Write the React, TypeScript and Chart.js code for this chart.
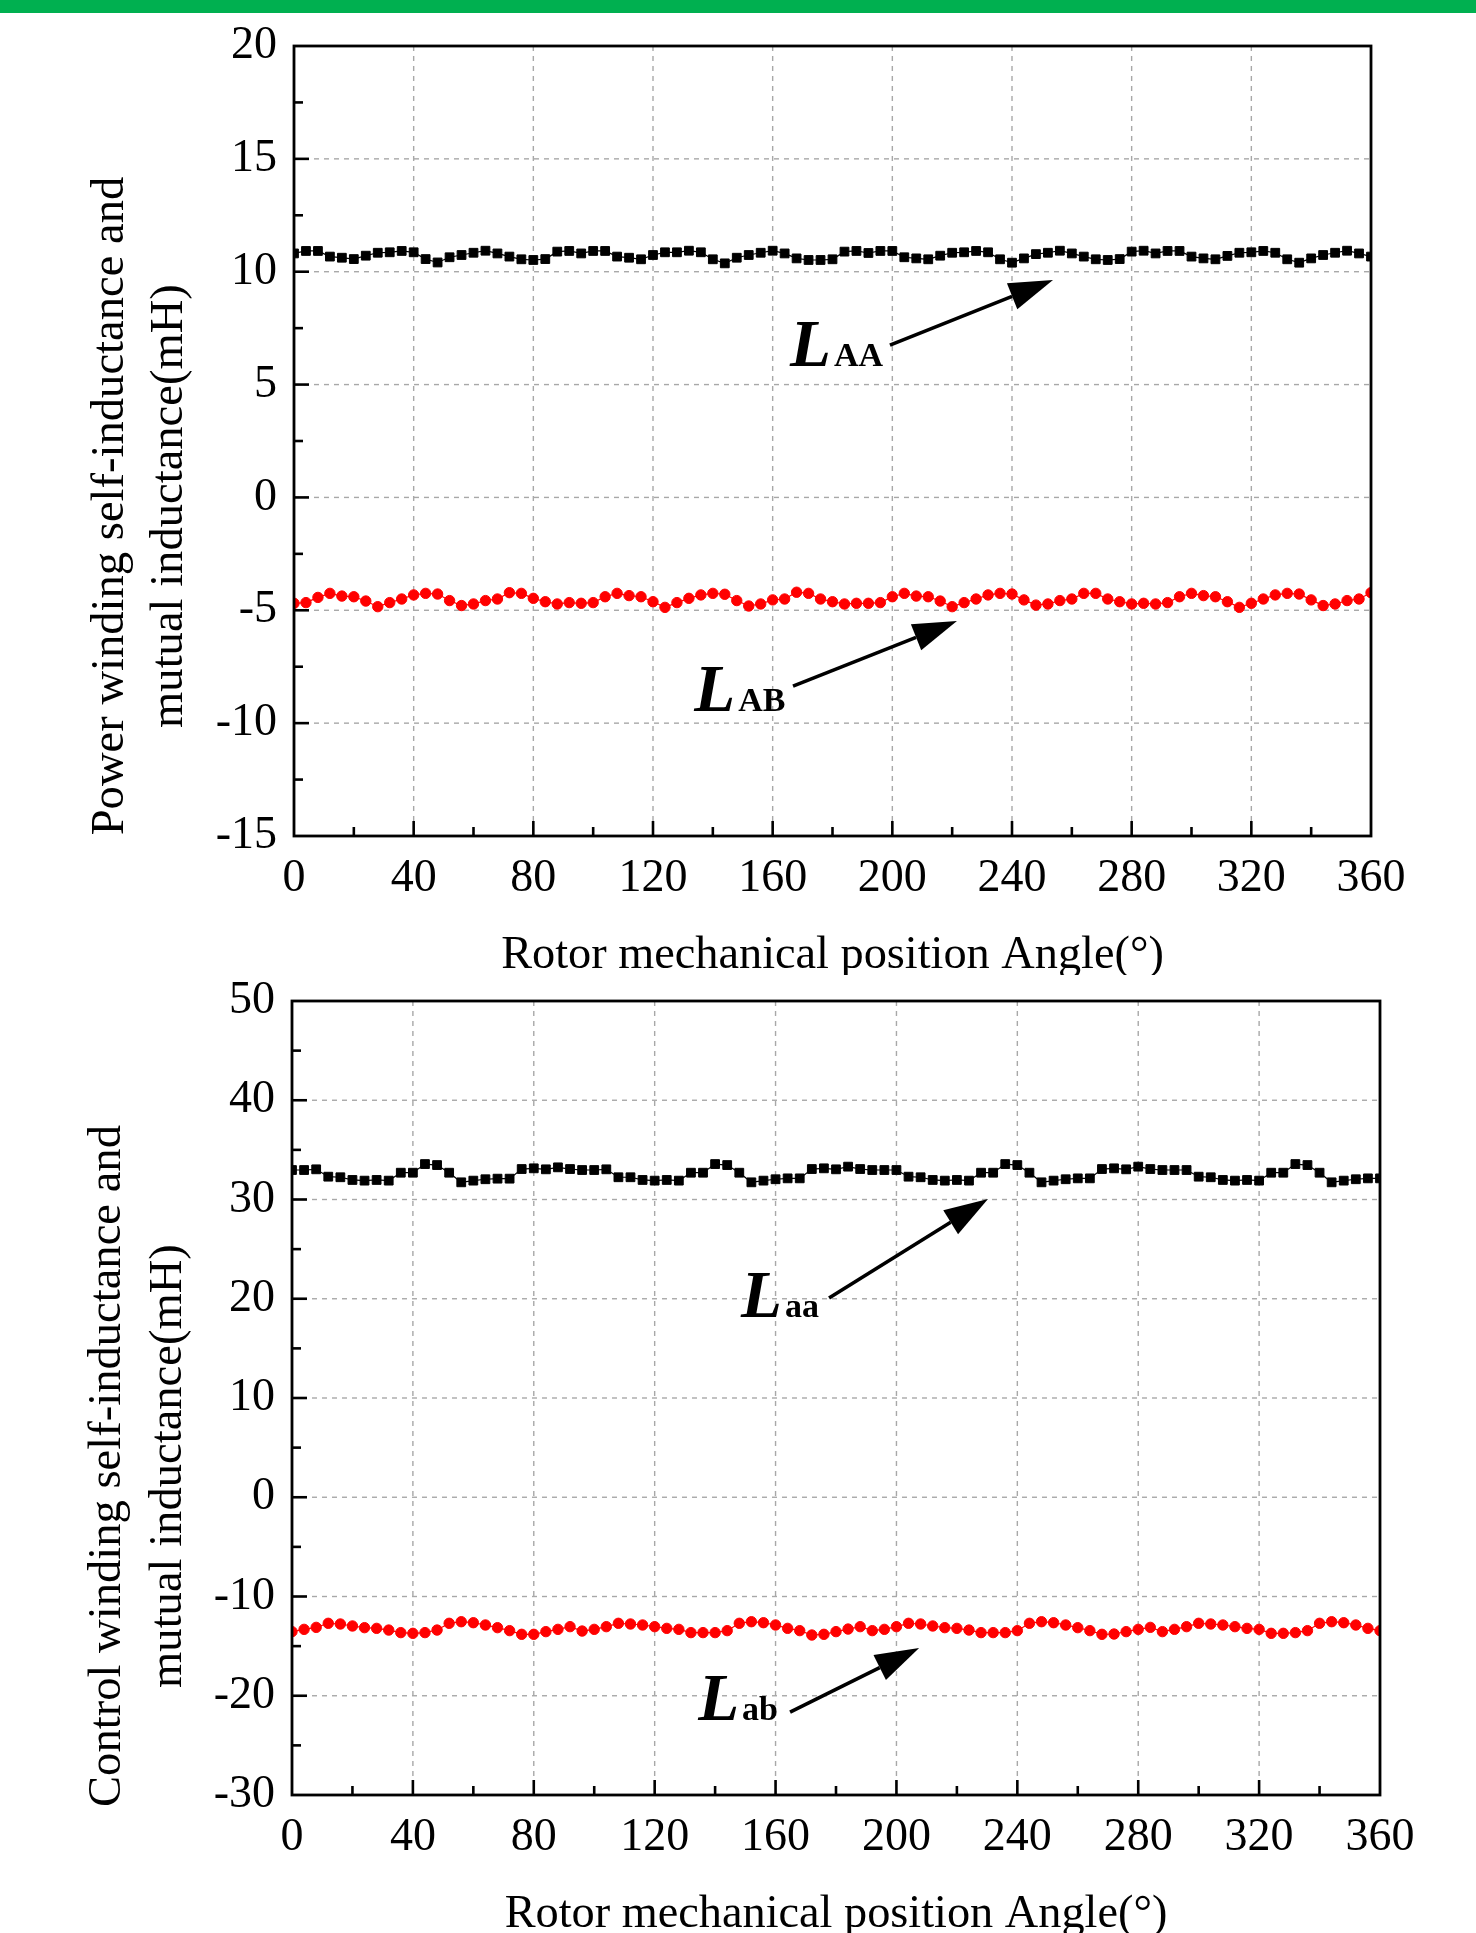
import React, { useEffect, useRef } from 'react';
import { Chart, registerables } from 'chart.js';

Chart.register(...registerables);

const FONT = '"Liberation Serif", "Times New Roman", serif';

// Rotor mechanical position angle (deg)
const ANGLES = [0,4,8,12,16,20,24,28,32,36,40,44,48,52,56,60,64,68,72,76,80,84,88,92,96,100,104,108,112,116,120,124,128,132,136,140,144,148,152,156,160,164,168,172,176,180,184,188,192,196,200,204,208,212,216,220,224,228,232,236,240,244,248,252,256,260,264,268,272,276,280,284,288,292,296,300,304,308,312,316,320,324,328,332,336,340,344,348,352,356,360];

// Power winding self-inductance LAA (mH)
const L_AA = [
  10.81,10.92,10.92,10.67,10.62,10.56,10.71,10.84,10.86,10.92,
  10.86,10.56,10.41,10.64,10.74,10.84,10.93,10.81,10.67,10.55,
  10.52,10.56,10.89,10.92,10.81,10.92,10.92,10.67,10.62,10.55,
  10.74,10.86,10.86,10.93,10.86,10.55,10.37,10.62,10.74,10.84,
  10.93,10.81,10.59,10.52,10.52,10.55,10.89,10.92,10.83,10.92,
  10.92,10.64,10.59,10.55,10.71,10.84,10.86,10.92,10.86,10.55,
  10.40,10.59,10.78,10.84,10.93,10.81,10.67,10.55,10.52,10.56,
  10.89,10.93,10.81,10.92,10.92,10.67,10.59,10.55,10.70,10.84,
  10.86,10.92,10.84,10.55,10.40,10.59,10.74,10.84,10.93,10.81,
  10.67];

// Power winding mutual inductance LAB (mH)
const L_AB = [
  -4.69,-4.66,-4.43,-4.25,-4.37,-4.40,-4.59,-4.84,-4.66,-4.50,
  -4.32,-4.25,-4.28,-4.57,-4.79,-4.72,-4.57,-4.50,-4.22,-4.25,
  -4.47,-4.62,-4.72,-4.66,-4.69,-4.66,-4.40,-4.25,-4.35,-4.40,
  -4.62,-4.87,-4.66,-4.47,-4.32,-4.25,-4.29,-4.57,-4.81,-4.72,
  -4.54,-4.50,-4.20,-4.25,-4.50,-4.62,-4.72,-4.69,-4.69,-4.66,
  -4.40,-4.25,-4.37,-4.40,-4.59,-4.84,-4.66,-4.50,-4.32,-4.25,
  -4.28,-4.54,-4.77,-4.72,-4.57,-4.50,-4.25,-4.25,-4.50,-4.62,
  -4.72,-4.69,-4.72,-4.66,-4.40,-4.25,-4.35,-4.40,-4.62,-4.87,
  -4.69,-4.50,-4.32,-4.25,-4.28,-4.54,-4.79,-4.72,-4.57,-4.50,
  -4.22];

// Control winding self-inductance Laa (mH)
const L_aa = [
  32.97,32.97,33.04,32.30,32.24,31.97,31.90,31.97,31.90,32.70,
  32.70,33.57,33.47,32.70,31.73,31.90,32.04,32.10,32.10,33.07,
  33.14,33.04,33.24,33.07,32.97,32.97,33.04,32.24,32.24,31.97,
  31.90,31.97,31.90,32.70,32.70,33.57,33.47,32.70,31.73,31.90,
  32.04,32.13,32.13,33.07,33.14,33.04,33.31,33.07,32.97,32.97,
  32.97,32.30,32.24,31.97,31.90,31.97,31.90,32.70,32.70,33.57,
  33.47,32.70,31.73,31.90,32.04,32.13,32.13,33.07,33.14,33.04,
  33.31,33.07,32.97,32.97,32.97,32.30,32.24,31.97,31.90,31.97,
  31.90,32.70,32.70,33.57,33.47,32.70,31.73,31.90,32.04,32.13,
  32.13];

// Control winding mutual inductance Lab (mH)
const L_ab = [
  -13.54,-13.31,-13.11,-12.70,-12.77,-12.97,-13.14,-13.21,-13.38,-13.64,
  -13.71,-13.64,-13.38,-12.70,-12.54,-12.64,-12.87,-13.14,-13.44,-13.81,
  -13.81,-13.54,-13.31,-13.04,-13.48,-13.31,-13.04,-12.70,-12.77,-12.87,
  -13.04,-13.21,-13.31,-13.64,-13.64,-13.64,-13.44,-12.70,-12.54,-12.64,
  -12.87,-13.21,-13.44,-13.88,-13.81,-13.54,-13.28,-13.04,-13.44,-13.31,
  -13.04,-12.70,-12.77,-12.97,-13.14,-13.21,-13.38,-13.64,-13.64,-13.64,
  -13.44,-12.70,-12.54,-12.64,-12.87,-13.14,-13.44,-13.81,-13.78,-13.54,
  -13.31,-13.11,-13.54,-13.31,-13.04,-12.70,-12.77,-12.87,-13.04,-13.21,
  -13.31,-13.71,-13.71,-13.64,-13.44,-12.70,-12.54,-12.64,-12.87,-13.21,
  -13.44];

const X_TITLE = 'Rotor mechanical position Angle(°)';
const TOP_Y_TITLE = ['Power winding self-inductance and', 'mutual inductance(mH)'];
const BOT_Y_TITLE = ['Control winding self-inductance and', 'mutual inductance(mH)'];

// annotation anchors in data units (angle, inductance)
const TOP_ANNOTS = [
  { main: 'L', sub: 'AA', lx: 165.8, ly: 5.82, fx: 199.2, fy: 6.75, tx: 253.7, ty: 9.63 },
  { main: 'L', sub: 'AB', lx: 133.8, ly: -9.46, fx: 166.8, fy: -8.36, tx: 221.6, ty: -5.48 },
];
const BOT_ANNOTS = [
  { main: 'L', sub: 'aa', lx: 148.6, ly: 18.16, fx: 177.7, fy: 20.08, tx: 230.3, ty: 30.05 },
  { main: 'L', sub: 'ab', lx: 134.4, ly: -22.44, fx: 164.8, fy: -21.64, tx: 207.5, ty: -15.19 },
];

type PanelCfg = {
  height: number;
  padTop: number;
  padRight: number;
  yWidth: number;
  xHeight: number;
  titlePadBottom: number;
  yMin: number; yMax: number; yMajor: number; yMinor: number;
  selfData: number[]; mutualData: number[];
  yTitle: string[]; yTitleX: number[]; yTitleCY: number;
  annots: typeof TOP_ANNOTS;
};

function makeDecor(cfg: PanelCfg) {
  return {
    id: 'decor',
    beforeDatasetsDraw(chart: any) {
      const { ctx, chartArea: a, scales } = chart;
      const x = scales.x, y = scales.y;
      ctx.save();
      ctx.strokeStyle = '#a8a8a8';
      ctx.lineWidth = 1.4;
      ctx.setLineDash([5, 5]);
      for (let v = 40; v < 360; v += 40) {
        const px = x.getPixelForValue(v);
        ctx.beginPath(); ctx.moveTo(px, a.top); ctx.lineTo(px, a.bottom); ctx.stroke();
      }
      const ny = Math.round((cfg.yMax - cfg.yMin) / cfg.yMajor);
      for (let i = 1; i < ny; i++) {
        const py = y.getPixelForValue(cfg.yMin + i * cfg.yMajor);
        ctx.beginPath(); ctx.moveTo(a.left, py); ctx.lineTo(a.right, py); ctx.stroke();
      }
      ctx.restore();
    },
    afterDatasetsDraw(chart: any) {
      const { ctx, chartArea: a, scales } = chart;
      const x = scales.x, y = scales.y;
      ctx.save();
      ctx.setLineDash([]);
      ctx.strokeStyle = '#000';
      // ticks (inward)
      ctx.lineWidth = 2.6;
      const nx = 18;
      for (let i = 1; i < nx; i++) {
        const px = x.getPixelForValue(i * 20);
        const len = i % 2 === 0 ? 15 : 9;
        ctx.beginPath(); ctx.moveTo(px, a.bottom); ctx.lineTo(px, a.bottom - len); ctx.stroke();
      }
      const nyMinor = Math.round((cfg.yMax - cfg.yMin) / cfg.yMinor);
      const ratio = Math.round(cfg.yMajor / cfg.yMinor);
      for (let i = 1; i < nyMinor; i++) {
        const py = y.getPixelForValue(cfg.yMin + i * cfg.yMinor);
        const len = i % ratio === 0 ? 15 : 9;
        ctx.beginPath(); ctx.moveTo(a.left, py); ctx.lineTo(a.left + len, py); ctx.stroke();
      }
      // frame
      ctx.lineWidth = 2.8;
      ctx.strokeRect(a.left, a.top, a.right - a.left, a.bottom - a.top);

      // annotations
      ctx.fillStyle = '#000';
      for (const an of cfg.annots) {
        const lx = x.getPixelForValue(an.lx), ly = y.getPixelForValue(an.ly);
        ctx.textAlign = 'left';
        ctx.textBaseline = 'alphabetic';
        ctx.font = `italic bold 67px ${FONT}`;
        ctx.fillText(an.main, lx, ly);
        const w = ctx.measureText(an.main).width;
        ctx.font = `bold 34px ${FONT}`;
        ctx.fillText(an.sub, lx + w + 3, ly);

        const fx = x.getPixelForValue(an.fx), fy = y.getPixelForValue(an.fy);
        const tx = x.getPixelForValue(an.tx), ty = y.getPixelForValue(an.ty);
        const ang = Math.atan2(ty - fy, tx - fx);
        const headLen = 44, headHalf = 14;
        const bx = tx - headLen * Math.cos(ang), by = ty - headLen * Math.sin(ang);
        ctx.lineWidth = 3.6;
        ctx.beginPath(); ctx.moveTo(fx, fy); ctx.lineTo(bx, by); ctx.stroke();
        ctx.beginPath();
        ctx.moveTo(tx, ty);
        ctx.lineTo(bx + headHalf * Math.sin(ang), by - headHalf * Math.cos(ang));
        ctx.lineTo(bx - headHalf * Math.sin(ang), by + headHalf * Math.cos(ang));
        ctx.closePath();
        ctx.fill();
      }

      // y-axis title (two lines, rotated)
      ctx.font = `46.6px ${FONT}`;
      ctx.textAlign = 'center';
      ctx.textBaseline = 'middle';
      cfg.yTitle.forEach((line, i) => {
        ctx.save();
        ctx.translate(cfg.yTitleX[i], cfg.yTitleCY);
        ctx.rotate(-Math.PI / 2);
        ctx.fillText(line, 0, 0);
        ctx.restore();
      });
      ctx.restore();
    },
  };
}

function Panel({ cfg }: { cfg: PanelCfg }) {
  const ref = useRef<HTMLCanvasElement | null>(null);
  useEffect(() => {
    if (!ref.current) return;
    const tickFont = { family: FONT, size: 46, lineHeight: 1 };
    const chart = new Chart(ref.current, {
      type: 'line',
      data: {
        datasets: [
          {
            data: ANGLES.map((a, i) => ({ x: a, y: cfg.selfData[i] })),
            borderColor: '#000',
            backgroundColor: '#000',
            borderWidth: 1.2,
            pointStyle: 'rect',
            pointRadius: 6.2,
            pointBorderWidth: 1,
            pointBackgroundColor: '#000',
            pointBorderColor: '#000',
            tension: 0,
          },
          {
            data: ANGLES.map((a, i) => ({ x: a, y: cfg.mutualData[i] })),
            borderColor: '#ff0000',
            backgroundColor: '#ff0000',
            borderWidth: 1.2,
            pointStyle: 'circle',
            pointRadius: 5.2,
            pointBorderWidth: 1,
            pointBackgroundColor: '#ff0000',
            pointBorderColor: '#ff0000',
            tension: 0,
          },
        ],
      },
      options: {
        animation: false,
        responsive: false,
        devicePixelRatio: 1,
        layout: { padding: { top: cfg.padTop, right: cfg.padRight, left: 0, bottom: 0 } },
        plugins: { legend: { display: false }, tooltip: { enabled: false } },
        scales: {
          x: {
            type: 'linear',
            min: 0,
            max: 360,
            grid: { display: false, drawTicks: false },
            border: { display: false },
            ticks: { stepSize: 40, color: '#000', font: tickFont, padding: 20, maxRotation: 0, autoSkip: false },
            title: { display: true, text: X_TITLE, color: '#000', font: { family: FONT, size: 46.3, lineHeight: 1 }, padding: { top: 0, bottom: cfg.titlePadBottom } },
            afterFit: (s: any) => { s.height = cfg.xHeight; },
          },
          y: {
            type: 'linear',
            min: cfg.yMin,
            max: cfg.yMax,
            grid: { display: false, drawTicks: false },
            border: { display: false },
            ticks: { stepSize: cfg.yMajor, color: '#000', font: tickFont, padding: 17 },
            afterFit: (s: any) => { s.width = cfg.yWidth; },
          },
        },
      } as any,
      plugins: [makeDecor(cfg)],
    });
    return () => chart.destroy();
  }, [cfg]);
  return <canvas ref={ref} width={1476} height={cfg.height} style={{ display: 'block', width: 1476, height: cfg.height }} />;
}

const TOP_CFG: PanelCfg = {
  height: 975, padTop: 46, padRight: 105, yWidth: 294, xHeight: 139, titlePadBottom: -4,
  yMin: -15, yMax: 20, yMajor: 5, yMinor: 2.5,
  selfData: L_AA, mutualData: L_AB,
  yTitle: TOP_Y_TITLE, yTitleX: [111, 170], yTitleCY: 506,
  annots: TOP_ANNOTS,
};

// second canvas starts at page y = 955
const BOT_CFG: PanelCfg = {
  height: 978, padTop: 46, padRight: 96, yWidth: 292, xHeight: 138, titlePadBottom: -5,
  yMin: -30, yMax: 50, yMajor: 10, yMinor: 5,
  selfData: L_aa, mutualData: L_ab,
  yTitle: BOT_Y_TITLE, yTitleX: [108, 169], yTitleCY: 511,
  annots: BOT_ANNOTS,
};

export default function App() {
  return (
    <div style={{ position: 'absolute', left: 0, top: 0, width: 1476, height: 1933, background: '#fff', overflow: 'hidden' }}>
      <div style={{ position: 'absolute', left: 0, top: 0, width: 1476, height: 975 }}>
        <Panel cfg={TOP_CFG} />
      </div>
      <div style={{ position: 'absolute', left: 0, top: 955, width: 1476, height: 978 }}>
        <Panel cfg={BOT_CFG} />
      </div>
      <div style={{ position: 'absolute', left: 0, top: 0, width: 1476, height: 13, background: '#00b050' }} />
    </div>
  );
}
